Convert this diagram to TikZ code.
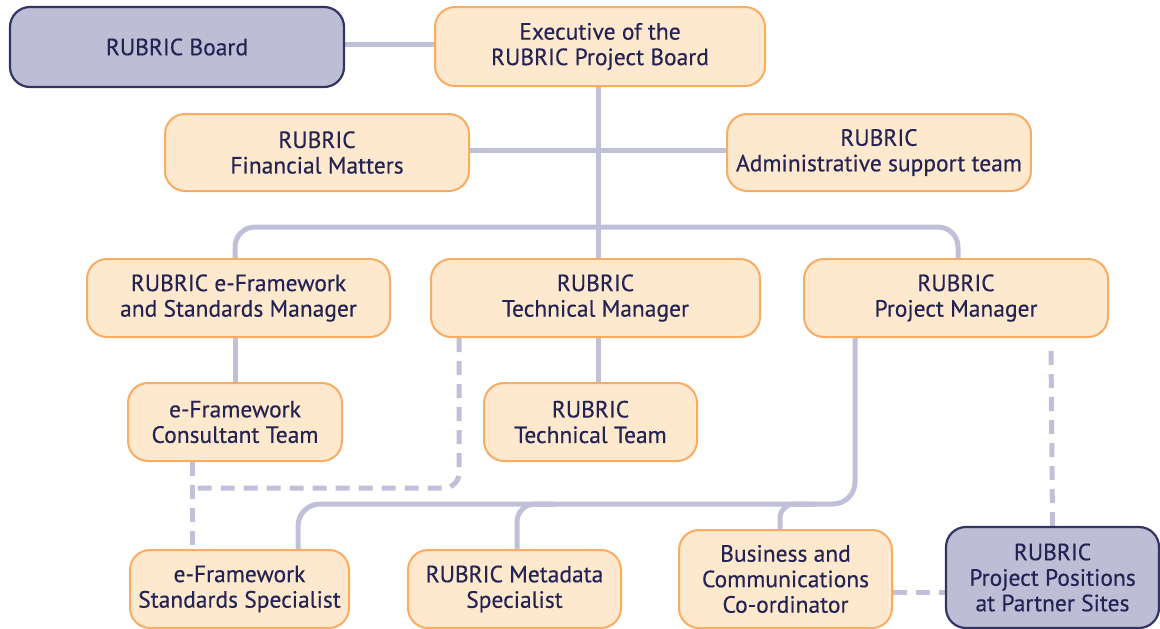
\documentclass[tikz,border=0pt]{standalone}
\usepackage{fontspec}
\setmainfont{PT Sans}[FakeBold=0.4]
\usetikzlibrary{calc,backgrounds}
\definecolor{txt}{RGB}{36,36,84}
\definecolor{ofill}{RGB}{255,233,206}
\definecolor{odraw}{RGB}{250,172,98}
\definecolor{nfill}{RGB}{189,189,214}
\definecolor{ndraw}{RGB}{52,52,100}
\definecolor{lcol}{RGB}{192,192,216}
\tikzset{
  obox/.style={draw=odraw, fill=ofill, line width=2pt, rounded corners=20pt, inner sep=0pt, align=center, text=txt, font=\fontsize{23.5}{25.5}\selectfont},
  nbox/.style={obox, draw=ndraw, fill=nfill, line width=2.2pt},
  conn/.style={draw=lcol, line width=5pt},
  dline/.style={draw=lcol, line width=5pt, dash pattern=on 14pt off 9pt},
}
\begin{document}
\begin{tikzpicture}[x=1pt,y=1pt]
\useasboundingbox (0,0) rectangle (1160,-629);
% nodes
\node[nbox, minimum width=334pt, minimum height=80pt] (board) at (177,-47) {RUBRIC Board};
\node[obox, minimum width=330pt, minimum height=79pt] (exec) at (600,-46.5) {Executive of the\\RUBRIC Project Board};
\node[obox, minimum width=304pt, minimum height=77pt] (fin) at (317,-152.5) {RUBRIC\\Financial Matters};
\node[obox, minimum width=304pt, minimum height=77pt] (admin) at (879,-152.5) {RUBRIC\\Administrative support team};
\node[obox, minimum width=303pt, minimum height=78pt] (efm) at (238.5,-298) {RUBRIC e-Framework\\and Standards Manager};
\node[obox, minimum width=329pt, minimum height=78pt] (tm) at (595.5,-298) {RUBRIC\\Technical Manager};
\node[obox, minimum width=304pt, minimum height=78pt] (pm) at (956,-298) {RUBRIC\\Project Manager};
\node[obox, minimum width=214pt, minimum height=78pt] (cons) at (235,-422) {e-Framework\\Consultant Team};
\node[obox, minimum width=213pt, minimum height=78pt] (tt) at (590.5,-422) {RUBRIC\\Technical Team};
\node[obox, minimum width=219pt, minimum height=78pt] (ss) at (239.5,-589) {e-Framework\\Standards Specialist};
\node[obox, minimum width=213pt, minimum height=78pt] (md) at (514.5,-589) {RUBRIC Metadata\\Specialist};
\node[obox, minimum width=213pt, minimum height=98pt] (bus) at (785.5,-579) {Business and\\Communications\\Co-ordinator};
\node[nbox, minimum width=213pt, minimum height=101pt] (ps) at (1052.5,-577.5) {RUBRIC\\Project Positions\\at Partner Sites};
% connectors
\begin{scope}[on background layer]
\draw[conn] ([yshift=3pt]board.east) -- ([yshift=3pt]board.east -| exec.west);
\draw[conn] ([xshift=-2pt]exec.south) -- ([xshift=-2pt]exec.south |- tm.north);
\draw[conn] ([yshift=2pt]fin.east) -- ([yshift=2pt]fin.east -| admin.west);
\draw[conn, rounded corners=20pt] ([xshift=-3.5pt]efm.north) -- ++(0,31) -| ([xshift=2pt]pm.north);
\draw[conn] (cons.north) -- (cons.north |- efm.south);
\draw[conn] ([xshift=-2pt]exec.south |- tm.south) -- ([xshift=-2pt]exec.south |- tt.north);
\draw[dline] ([xshift=-43pt]cons.south) -- ([xshift=-43pt]cons.south |- ss.north);
\draw[dline, rounded corners=15pt] ([xshift=-136.5pt]tm.south) |- ([xshift=-43pt,yshift=-26pt]cons.south);
\draw[conn, rounded corners=22pt] ([xshift=-101pt]pm.south) |- ([xshift=58.5pt,yshift=45pt]ss.north) -- ([xshift=58.5pt]ss.north);
\draw[conn, rounded corners=18pt] ([xshift=2.5pt]md.north) |- ([xshift=40pt,yshift=45pt]md.north);
\draw[conn, rounded corners=14pt] ([xshift=-5.5pt]bus.north) |- ([xshift=30pt,yshift=25pt]bus.north);
\draw[dline] ([xshift=-1.5pt,yshift=-13pt]pm.south -| ps.north) -- (ps.north);
\draw[dline] ([yshift=-13pt]bus.east) -- ([yshift=-13pt]bus.east -| ps.west);
\end{scope}
\end{tikzpicture}
\end{document}
